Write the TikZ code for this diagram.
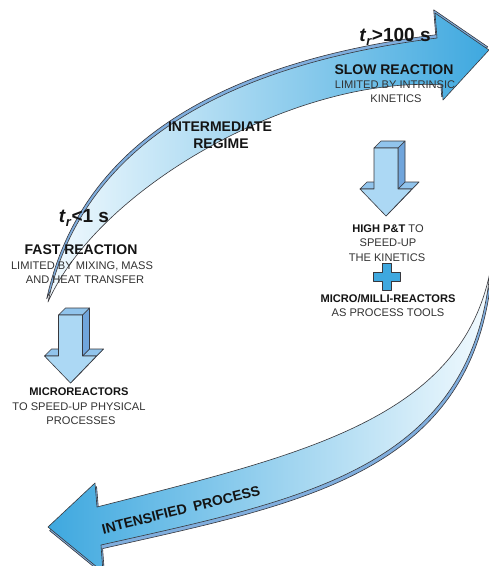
\documentclass[tikz,border=0pt]{standalone}
\usepackage{fontspec}
\setmainfont{Liberation Sans}
\definecolor{edge}{RGB}{55,55,60}
\definecolor{band}{RGB}{128,174,222}
\definecolor{deep}{RGB}{62,168,223}
\definecolor{pale}{RGB}{242,250,254}
\definecolor{midb}{RGB}{172,221,245}
\definecolor{face}{RGB}{172,216,244}
\definecolor{topf}{RGB}{145,196,236}
\definecolor{sidef}{RGB}{112,165,220}
\definecolor{txt}{RGB}{20,20,20}
\definecolor{txtg}{RGB}{50,50,50}
\tikzset{
  outl/.style={draw=edge, line width=0.6pt, line join=round},
  headtxt/.style={font=\fontsize{14}{14}\selectfont\bfseries, text=txt, inner sep=0pt, anchor=base},
  subtxt/.style={font=\fontsize{11.1}{11.1}\selectfont, text=txtg, inner sep=0pt, anchor=base},
  boldsub/.style={font=\fontsize{11.1}{11.1}\selectfont\bfseries, text=txt, inner sep=0pt, anchor=base},
  tlab/.style={font=\fontsize{19}{19}\selectfont\bfseries, text=txt, inner sep=0pt, anchor=base},
}
\newcommand\blockarr[2]{%
  \begin{scope}[shift={(#1,#2)}]
    \filldraw[outl, fill=topf] (-26,41) -- (-19,34) -- (-5,34) -- (-12,41) -- cycle;
    \filldraw[outl, fill=sidef] (26,41) -- (33,34) -- (7,61) -- (0,68) -- cycle;
    \filldraw[outl, fill=topf] (12,41) -- (19,34) -- (33,34) -- (26,41) -- cycle;
    \filldraw[outl, fill=sidef] (12,0) -- (19,-7) -- (19,34) -- (12,41) -- cycle;
    \filldraw[outl, fill=topf] (-12,0) -- (-5,-7) -- (19,-7) -- (12,0) -- cycle;
    \filldraw[outl, fill=face] (-12,0) -- (12,0) -- (12,41) -- (26,41) -- (0,68) -- (-26,41) -- (-12,41) -- cycle;
  \end{scope}}
\newcommand\tsub[1]{\textit{t}\raisebox{-0.22em}{\fontsize{13}{13}\selectfont\textit{#1}}}
\begin{document}
\begin{tikzpicture}[x=1pt, y=-1pt]
\useasboundingbox (0,0) rectangle (489,566);
\clip (0,0) rectangle (489,566);
\fill[white] (0,0) rectangle (489,566);

% top curved arrow: side band then front face
\begin{scope}[shift={(-1.3,-3.2)}]
\filldraw[outl, fill=band] (48,302) .. controls (82,145) and (225,65) .. (437,38) -- (435,13) -- (489,50) -- (443,100) -- (442,85) .. controls (300,75) and (100,185) .. (48,302) -- cycle;
\end{scope}
\path[outl, left color=pale, middle color=midb, right color=deep] (48,302) .. controls (82,145) and (225,65) .. (437,38) -- (435,13) -- (489,50) -- (443,100) -- (442,85) .. controls (300,75) and (100,185) .. (48,302) -- cycle;

% bottom curved arrow
\begin{scope}[shift={(1.6,3.6)}]
\filldraw[outl, fill=band] (490,272) .. controls (460,420) and (300,455) .. (97,507) -- (95,483) -- (48,527) -- (103,572) -- (101,545) .. controls (300,500) and (470,470) .. (490,272) -- cycle;
\end{scope}
\path[outl, left color=deep, middle color=midb, right color=pale] (490,272) .. controls (460,420) and (300,455) .. (97,507) -- (95,483) -- (48,527) -- (103,572) -- (101,545) .. controls (300,500) and (470,470) .. (490,272) -- cycle;

% block arrows
\blockarr{70.5}{315}
\blockarr{386}{148}

% plus sign
\filldraw[outl, fill=deep] (382.5,263) -- (391.5,263) -- (391.5,272) -- (400.5,272) -- (400.5,281) -- (391.5,281) -- (391.5,290) -- (382.5,290) -- (382.5,281) -- (373.5,281) -- (373.5,272) -- (382.5,272) -- cycle;

% texts
\node[tlab] (tslow) at (395,41) {\tsub{r}>100 s};
\node[headtxt] (slow) at (394,74) {SLOW REACTION};
\node[subtxt] (slow1) at (395,88) {LIMITED BY INTRINSIC};
\node[subtxt] (slow2) at (396,102) {KINETICS};

\node[headtxt] (inter1) at (220,131) {INTERMEDIATE};
\node[headtxt] (inter2) at (221,148) {REGIME};

\node[tlab] (tfast) at (84,222) {\tsub{r}<1 s};
\node[headtxt] (fast) at (81,254) {FAST REACTION};
\node[subtxt] (fast1) at (82,269) {LIMITED BY MIXING, MASS};
\node[subtxt] (fast2) at (85,283) {AND HEAT TRANSFER};

\node[subtxt] (hp1) at (388,232) {\textbf{\color{txt}HIGH P\&T} TO};
\node[subtxt] (hp2) at (388,246) {SPEED-UP};
\node[subtxt] (hp3) at (387,261) {THE KINETICS};

\node[boldsub] (mm1) at (388,302) {MICRO/MILLI-REACTORS};
\node[subtxt] (mm2) at (388,316) {AS PROCESS TOOLS};

\node[boldsub] (mr1) at (79,395) {MICROREACTORS};
\node[subtxt] (mr2) at (79,410) {TO SPEED-UP PHYSICAL};
\node[subtxt] (mr3) at (81,424) {PROCESSES};

\node[headtxt, anchor=center, rotate=14] (intens) at (181,510) {INTENSIFIED\hspace{7pt}PROCESS};
\end{tikzpicture}
\end{document}
